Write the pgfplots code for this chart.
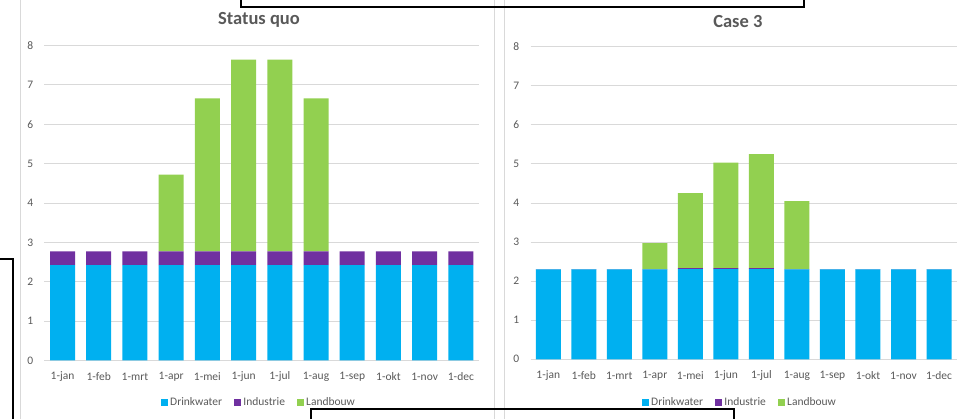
\documentclass[border=0pt]{standalone}
\usepackage{fontspec}
\setmainfont{Carlito}
\usepackage{pgfplots}
\usepackage{pgfplotstable}
\pgfplotsset{compat=1.18}

\definecolor{drink}{HTML}{00B0F0}
\definecolor{indus}{HTML}{7030A0}
\definecolor{land}{HTML}{92D050}
\definecolor{txtgray}{HTML}{595959}
\definecolor{gridgray}{HTML}{D9D9D9}

% month index, Drinkwater, Industrie, Landbouw
\pgfplotstableread{
x D I L
0 2.42 0.35 0
1 2.42 0.35 0
2 2.42 0.35 0
3 2.42 0.35 1.95
4 2.42 0.35 3.89
5 2.42 0.35 4.87
6 2.42 0.35 4.87
7 2.42 0.35 3.89
8 2.42 0.35 0
9 2.42 0.35 0
10 2.42 0.35 0
11 2.42 0.35 0
}\statusquo

\pgfplotstableread{
x D I L
0 2.30 0.01 0
1 2.30 0.01 0
2 2.30 0.01 0
3 2.30 0.01 0.66
4 2.31 0.02 1.92
5 2.31 0.02 2.70
6 2.31 0.02 2.92
7 2.30 0.01 1.74
8 2.30 0.01 0
9 2.30 0.01 0
10 2.30 0.01 0
11 2.30 0.01 0
}\casethree

\pgfplotsset{
  excelbars/.style={
    scale only axis,
    ybar stacked,
    bar width=25pt,
    xmin=-0.5, xmax=11.5,
    ymin=0, ymax=8,
    xtick={0,...,11},
    xticklabels={1-jan,1-feb,1-mrt,1-apr,1-mei,1-jun,1-jul,1-aug,1-sep,1-okt,1-nov,1-dec},
    ytick={0,...,8},
    ymajorgrids,
    grid style={draw=gridgray, line width=0.9pt},
    axis line style={draw=none},
    major tick length=0pt,
    tick label style={font=\fontsize{11.5}{13}\selectfont, text=txtgray, inner sep=0pt},
    /pgf/number format/assume math mode=true,
    xticklabel style={anchor=center, yshift=-16.3pt},
    yticklabel style={anchor=east, xshift=-11pt},
    title style={font=\fontsize{18.5}{20}\bfseries\selectfont, text=txtgray, anchor=center},
    legend columns=3,
    legend style={draw=none, fill=none, anchor=center,
      font=\fontsize{11.5}{13}\selectfont, text=txtgray,
      inner sep=0pt,
      /tikz/every even column/.append style={column sep=10pt}},
    legend image code/.code={\path[##1, draw=none] (0pt,-3.6pt) rectangle (7.2pt,3.6pt);},
  },
}

\begin{document}
\begin{tikzpicture}[x=1pt, y=1pt]
\path[use as bounding box] (0,0) rectangle (961,419);

% chart area borders
\draw[gridgray, line width=0.9pt] (20,0) -- (20,419);
\draw[gridgray, line width=0.9pt] (494,0) -- (494,419);
\draw[gridgray, line width=0.9pt] (504.5,0) -- (504.5,419);

\begin{axis}[excelbars,
  at={(44.4pt,58.5pt)}, anchor=south west,
  width=434.6pt, height=315pt,
  title={Status quo},
  title style={at={(rel axis cs:0.4938,1)}, yshift=19.5pt},
  legend style={at={(0.4938,-0.1333)}},
]
\addplot[fill=drink, draw=none] table[x=x, y=D] {\statusquo};
\addplot[fill=indus, draw=none] table[x=x, y=I] {\statusquo};
\addplot[fill=land, draw=none] table[x=x, y=L] {\statusquo};
\legend{Drinkwater, Industrie, Landbouw}
\end{axis}

\begin{axis}[excelbars,
  at={(530.5pt,59.7pt)}, anchor=south west,
  width=426.3pt, height=312.6pt,
  title={Case 3},
  title style={at={(rel axis cs:0.4865,1)}, yshift=19.3pt},
  legend style={at={(0.4914,-0.1390)}},
]
\addplot[fill=drink, draw=none] table[x=x, y=D] {\casethree};
\addplot[fill=indus, draw=none] table[x=x, y=I] {\casethree};
\addplot[fill=land, draw=none] table[x=x, y=L] {\casethree};
\legend{Drinkwater, Industrie, Landbouw}
\end{axis}

% black outline boxes at the edges
\draw[black, line width=2pt] (240.5,420) -- (240.5,412) -- (804,412) -- (804,420);
\draw[black, line width=2pt] (310.5,-1) -- (310.5,10) -- (734,10) -- (734,-1);
\draw[black, line width=1.5pt] (-1,160) -- (13,160) -- (13,-1);
\end{tikzpicture}
\end{document}
